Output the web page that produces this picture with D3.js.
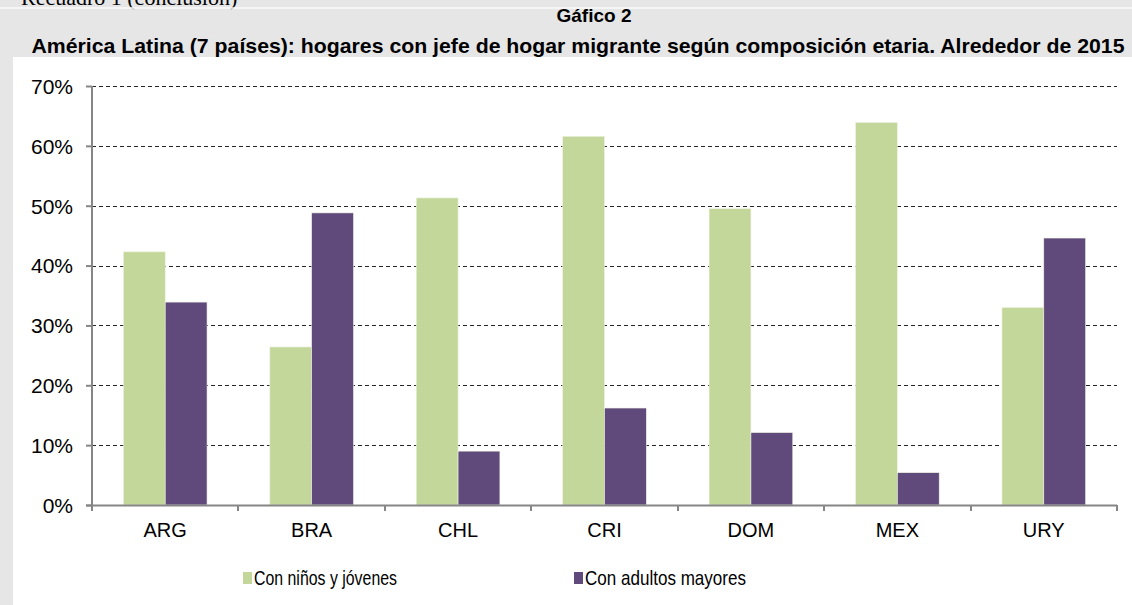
<!DOCTYPE html>
<html><head><meta charset="utf-8">
<script src="https://cdn.jsdelivr.net/npm/d3@7"></script>
<style>
html,body{margin:0;padding:0;background:#e6e6e6;}
svg{display:block;}
</style></head>
<body>
<svg id="c" width="1132" height="605"></svg>
<script>
const categories = ["ARG","BRA","CHL","CRI","DOM","MEX","URY"];
const seriesNames = ["Con niños y jóvenes","Con adultos mayores"];
const ninos = [42.3, 26.4, 51.3, 61.6, 49.5, 63.9, 33.0];
const adultos = [33.9, 48.8, 9.0, 16.2, 12.1, 5.4, 44.6];
const yTicks = [0,10,20,30,40,50,60,70];
const colors = ["#c4d79b","#604a7b"];

const font = "Liberation Sans, Arial, sans-serif";
const svg = d3.select("#c");
// header
svg.append("text").attr("x",21).attr("y",5).attr("font-family","Liberation Serif, Times New Roman, serif")
  .attr("font-size",22).attr("fill","#000").text("Recuadro 1 (conclusión)");
svg.append("line").attr("x1",0).attr("x2",1132).attr("y1",8).attr("y2",8).attr("stroke","#fafafa").attr("stroke-width",1.5);
svg.append("text").attr("x",594).attr("y",22).attr("text-anchor","middle")
  .attr("font-family",font).attr("font-weight","bold").attr("font-size",19).text("Gáfico 2");
svg.append("text").attr("x",578).attr("y",53).attr("text-anchor","middle")
  .attr("font-family",font).attr("font-weight","bold").attr("font-size",21)
  .attr("textLength",1093).attr("lengthAdjust","spacingAndGlyphs")
  .text("América Latina (7 países): hogares con jefe de hogar migrante según composición etaria. Alrededor de 2015");
// white panel
svg.append("rect").attr("x",13).attr("y",57).attr("width",1119).attr("height",548).attr("fill","#fff");

const x0 = d3.scaleBand().domain(categories).range([92,1117]).paddingInner(0).paddingOuter(0);
const bw = x0.bandwidth()/3.5;
const y = d3.scaleLinear().domain([0,70]).range([505,86]);

// gridlines
svg.append("g").selectAll("line").data(yTicks.filter(d=>d>0)).join("line")
  .attr("x1",92).attr("x2",1117).attr("y1",d=>Math.round(y(d))+0.5).attr("y2",d=>Math.round(y(d))+0.5)
  .attr("stroke","#262626").attr("stroke-width",1.2).attr("stroke-dasharray","4,3");

// bars
const series = [ninos, adultos];
series.forEach((vals,si)=>{
  svg.append("g").selectAll("rect").data(categories).join("rect")
    .attr("x",(d)=>x0(d)+bw*0.75+si*bw)
    .attr("y",(d,i)=>y(vals[i]))
    .attr("width",bw)
    .attr("height",(d,i)=>y(0)-y(vals[i]))
    .attr("fill",colors[si])
    .attr("stroke","#eef2e4").attr("stroke-width",0.6);
});

// axes
const yAxis = d3.axisLeft(y).tickValues(yTicks).tickFormat(d=>d+"%").tickSize(6).tickPadding(6);
const gy = svg.append("g").attr("transform","translate(92,0)").call(yAxis);
gy.select(".domain").attr("stroke","#868686").attr("stroke-width",2).attr("d","M0,86V506");
gy.selectAll(".tick line").attr("stroke","#868686").attr("stroke-width",2);
gy.selectAll(".tick text").attr("font-family",font).attr("font-size",21).attr("fill","#000").attr("x",-19).attr("dy","0.35em");

svg.append("line").attr("x1",86).attr("x2",1117).attr("y1",505.5).attr("y2",505.5).attr("stroke","#868686").attr("stroke-width",2);
const bounds = categories.map(c=>x0(c)).concat([x0.range()[1]]);
svg.append("g").selectAll("line").data(bounds).join("line")
  .attr("x1",d=>Math.round(d)).attr("x2",d=>Math.round(d)).attr("y1",505).attr("y2",511)
  .attr("stroke","#868686").attr("stroke-width",2);
svg.append("g").selectAll("text").data(categories).join("text")
  .attr("x",d=>x0(d)+x0.bandwidth()/2).attr("y",537).attr("text-anchor","middle")
  .attr("font-family",font).attr("font-size",20).attr("fill","#000").text(d=>d);

// legend
const legX = [243, 574];
const legW = [143, 161];
seriesNames.forEach((n,i)=>{
  svg.append("rect").attr("x",legX[i]).attr("y",572).attr("width",9).attr("height",12).attr("fill",colors[i]);
  svg.append("text").attr("x",legX[i]+11).attr("y",585).attr("font-family",font).attr("font-size",21).attr("fill","#000")
    .attr("textLength",legW[i]).attr("lengthAdjust","spacingAndGlyphs").text(n);
});
</script>
</body></html>
